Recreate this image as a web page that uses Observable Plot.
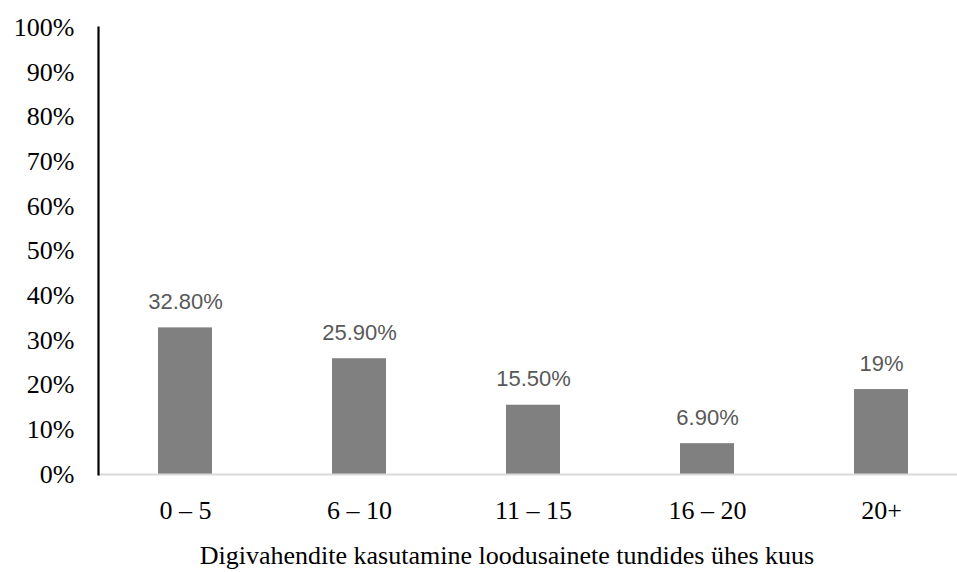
<!DOCTYPE html>
<html>
<head>
<meta charset="utf-8">
<script src="https://cdn.jsdelivr.net/npm/d3@7"></script>
<script src="https://cdn.jsdelivr.net/npm/@observablehq/plot@0.6"></script>
<style>
  html, body { margin: 0; padding: 0; background: #fff; }
  #chart svg { display: block; }
</style>
</head>
<body>
<div id="chart"></div>
<script>
// Hours per month of digital tool use in science lessons
const categories = ["0 – 5", "6 – 10", "11 – 15", "16 – 20", "20+"];
const shares = [32.8, 25.9, 15.5, 6.9, 19]; // percent of respondents
const yTicks = [0, 10, 20, 30, 40, 50, 60, 70, 80, 90, 100];
const axisTitle = "Digivahendite kasutamine loodusainete tundides ühes kuus";

const rows = categories.map((c, i) => ({category: c, value: shares[i]}));
const fmtValue = v => (Number.isInteger(v) ? String(v) : v.toFixed(2)) + "%";

const serif = "'Liberation Serif', 'Times New Roman', serif";

const chart = Plot.plot({
  width: 957,
  height: 572,
  marginLeft: 98,
  marginRight: 0,
  marginTop: 27,
  marginBottom: 98,
  style: {fontFamily: serif, background: "#fff", color: "#000"},
  x: {domain: categories, range: [98, 968], paddingInner: 0.69, paddingOuter: 0.345, label: null},
  y: {domain: [0, 100], label: null},
  marks: [
    Plot.barY(rows, {x: "category", y: "value", fill: "#808080"}),
    Plot.ruleY([0], {stroke: "#d9d9d9", strokeWidth: 2}),
    Plot.frame({anchor: "left", stroke: "#000", strokeWidth: 2.2}),
    Plot.axisY({
      ticks: yTicks,
      tickSize: 0,
      tickPadding: 24,
      tickFormat: d => d + "%",
      fontSize: 26,
      fontFamily: serif,
      label: null
    }),
    Plot.axisX({
      tickSize: 0,
      tickPadding: 26,
      fontSize: 26,
      fontFamily: serif,
      label: null
    }),
    Plot.text(rows, {
      x: "category",
      y: "value",
      text: d => fmtValue(d.value),
      dy: -26,
      fontSize: 22,
      fill: "#595959",
      fontFamily: "'Liberation Sans', Arial, sans-serif"
    }),
    Plot.text([axisTitle], {
      frameAnchor: "bottom",
      dx: -21,
      dy: 81,
      lineAnchor: "middle",
      fontSize: 26,
      fontFamily: serif,
      fill: "#000"
    })
  ]
});

document.getElementById("chart").append(chart);
</script>
</body>
</html>
